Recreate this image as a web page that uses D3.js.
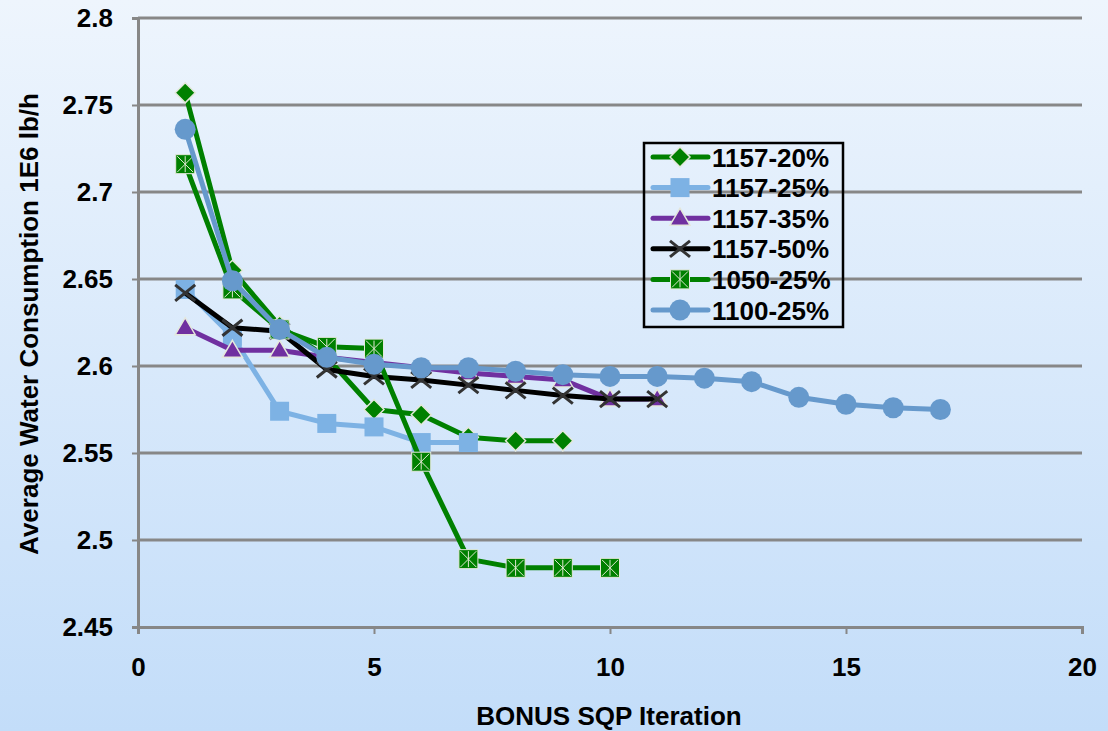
<!DOCTYPE html>
<html><head><meta charset="utf-8">
<script src="https://cdn.jsdelivr.net/npm/d3@7"></script>
<style>
html,body{margin:0;padding:0;}
body{width:1108px;height:731px;overflow:hidden;background:linear-gradient(#eef5fd,#c3ddf9);}
text{font-family:"Liberation Sans",Arial,sans-serif;font-weight:bold;}
</style></head><body>
<svg id="c" width="1108" height="731"></svg>
<script>
const seriesNames = ["1157-20%","1157-25%","1157-35%","1157-50%","1050-25%","1100-25%"];
const s1157_20 = [2.757,2.655,2.623,2.605,2.575,2.572,2.559,2.557,2.557];
const s1157_25 = [2.644,2.617,2.574,2.567,2.565,2.556,2.556];
const s1157_35 = [2.622,2.609,2.609,2.605,2.602,2.599,2.596,2.594,2.592,2.581,2.581];
const s1157_50 = [2.642,2.622,2.620,2.598,2.594,2.592,2.589,2.586,2.583,2.581,2.581];
const s1050_25 = [2.716,2.644,2.621,2.611,2.610,2.545,2.489,2.484,2.484,2.484];
const s1100_25 = [2.736,2.649,2.621,2.605,2.601,2.599,2.599,2.597,2.595,2.594,2.594,2.593,2.591,2.582,2.578,2.576,2.575];
const xTicks = [0,5,10,15,20];
const yTicks = [2.45,2.5,2.55,2.6,2.65,2.7,2.75,2.8];
const colors = ["#008000","#7DB2E4","#7030A0","#000000","#008000","#6699CC"];
const markers = ["diamond","square","triangle","x","xsquare","circle"];
const allSeries = [s1157_20,s1157_25,s1157_35,s1157_50,s1050_25,s1100_25];

const svg = d3.select("#c");
const x = d3.scaleLinear().domain([0,20]).range([138,1082]);
const y = d3.scaleLinear().domain([2.45,2.8]).range([627,18]);
const FS = "26px";

// gridlines
svg.append("g").selectAll("line").data(yTicks.slice(1)).join("line")
  .attr("x1",x(0)).attr("x2",x(20)).attr("y1",d=>y(d)).attr("y2",d=>y(d))
  .attr("stroke","#878787").attr("stroke-width",3);

// axes
const yAxis = svg.append("g").attr("transform",`translate(${x(0)},0)`)
  .call(d3.axisLeft(y).tickValues(yTicks).tickFormat(d=>String(+d.toFixed(2))).tickSize(6).tickPadding(19));
const xAxis = svg.append("g").attr("transform",`translate(0,${y(2.45)})`)
  .call(d3.axisBottom(x).tickValues(xTicks).tickSize(7).tickPadding(24));
[yAxis,xAxis].forEach(a=>{
  a.select(".domain").attr("stroke","#878787").attr("stroke-width",3);
  a.selectAll(".tick line").attr("stroke","#878787").attr("stroke-width",2);
  a.selectAll(".tick text").attr("fill","#000").style("font-size",FS).style("font-family","'Liberation Sans',Arial,sans-serif").style("font-weight","bold");
});

// titles
svg.append("text").attr("x",609).attr("y",725).attr("text-anchor","middle").style("font-size",FS).text("BONUS SQP Iteration");
svg.append("text").attr("transform","translate(38,324) rotate(-90)").attr("text-anchor","middle").style("font-size",FS).text("Average Water Consumption 1E6 lb/h");

function drawMarker(g, type, color, cx, cy){
  const h = "#e4e8dc";
  if(type==="diamond"){
    g.append("path").attr("d",`M${cx},${cy-10}L${cx+10},${cy}L${cx},${cy+10}L${cx-10},${cy}Z`).attr("fill",color).attr("stroke",h).attr("stroke-width",1.5);
  } else if(type==="square"){
    g.append("rect").attr("x",cx-9.5).attr("y",cy-9.5).attr("width",19).attr("height",19).attr("fill",color);
  } else if(type==="triangle"){
    g.append("path").attr("d",`M${cx},${cy-10}L${cx+10},${cy+7}L${cx-10},${cy+7}Z`).attr("fill",color).attr("stroke",h).attr("stroke-width",1.5);
  } else if(type==="x"){
    g.append("path").attr("d",`M${cx-10},${cy-8}L${cx+10},${cy+8}M${cx-10},${cy+8}L${cx+10},${cy-8}`).attr("stroke","#333").attr("stroke-width",3);
  } else if(type==="xsquare"){
    g.append("rect").attr("x",cx-9.5).attr("y",cy-9.5).attr("width",19).attr("height",19).attr("fill",color).attr("stroke",h).attr("stroke-width",1);
    g.append("path").attr("d",`M${cx-8},${cy-8}L${cx+8},${cy+8}M${cx-8},${cy+8}L${cx+8},${cy-8}M${cx},${cy-8}L${cx},${cy+8}`).attr("stroke","#dfe8d0").attr("stroke-width",1);
  } else if(type==="circle"){
    g.append("circle").attr("cx",cx).attr("cy",cy).attr("r",10.5).attr("fill",color);
  }
}

const line = d3.line().x((d,i)=>x(i+1)).y(d=>y(d));
allSeries.forEach((s,k)=>{
  const g = svg.append("g");
  g.append("path").datum(s).attr("d",line).attr("fill","none").attr("stroke",colors[k]).attr("stroke-width",5).attr("stroke-linejoin","round");
  s.forEach((v,i)=>drawMarker(g,markers[k],colors[k],x(i+1),y(v)));
});

// legend
const lg = svg.append("g");
lg.append("rect").attr("x",644).attr("y",143).attr("width",199).attr("height",184).attr("fill","none").attr("stroke","#000").attr("stroke-width",2.5);
seriesNames.forEach((n,k)=>{
  const ly = 157 + k*30.6;
  lg.append("line").attr("x1",653).attr("x2",708).attr("y1",ly).attr("y2",ly).attr("stroke",colors[k]).attr("stroke-width",5).attr("stroke-linecap","round");
  drawMarker(lg,markers[k],colors[k],680,ly);
  lg.append("text").attr("x",712).attr("y",ly+9.5).style("font-size",FS).text(n);
});
</script></body></html>
